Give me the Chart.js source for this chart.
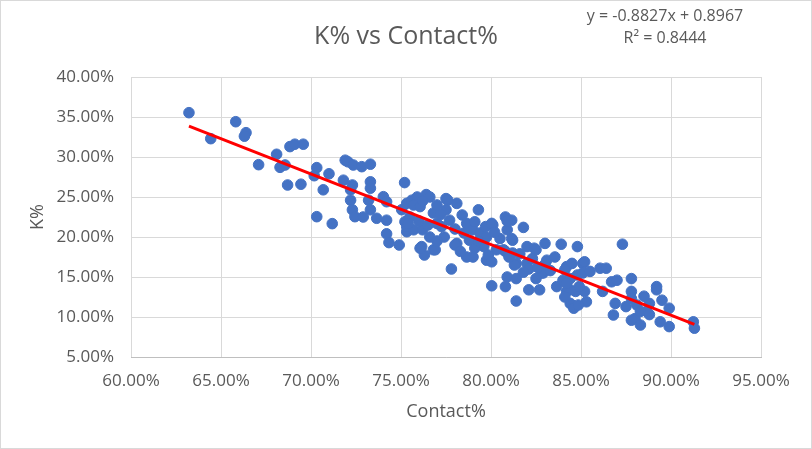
<!DOCTYPE html>
<html>
<head>
<meta charset="utf-8">
<script src="https://cdn.jsdelivr.net/npm/chart.js@4.4.1/dist/chart.umd.min.js"></script>
<style>
  html, body { margin: 0; padding: 0; background: #ffffff; }
  #wrap { width: 812px; height: 449px; position: relative; }
</style>
</head>
<body>
<div id="wrap"><canvas id="c" width="812" height="449"></canvas></div>
<script>
// Contact% (x) and K% (y), in percent
const contact = [
  63.22, 64.43, 65.82, 66.39, 66.30, 67.09, 68.09, 68.28, 68.56, 68.70,
  68.83, 69.10, 69.57, 69.44, 70.32, 70.18, 70.68, 71.00, 70.32, 71.18,
  71.90, 72.05, 72.35, 72.82, 73.30, 71.80, 72.30, 72.20, 73.30, 73.30,
  72.20, 72.30, 72.44, 73.20, 73.30, 72.90, 74.02, 74.20, 73.65, 74.20,
  74.20, 74.33, 74.90, 75.20, 75.04, 75.32, 75.22, 75.32, 75.60, 75.90,
  76.40, 76.60, 77.50, 77.60, 78.10, 75.70, 76.06, 75.50, 75.32, 75.70,
  76.20, 76.80, 77.00, 76.60, 76.15, 76.30, 76.80, 77.40, 77.70, 77.50,
  77.80, 78.40, 78.65, 78.10, 78.50, 78.65, 79.00, 79.30, 79.00, 79.40,
  79.75, 79.60, 79.75, 80.10, 80.30, 80.04, 80.80, 81.15, 80.90, 80.70,
  81.20, 81.20, 81.40, 80.90, 80.80, 81.40, 81.40, 81.80, 82.00, 82.00,
  82.10, 82.50, 82.70, 83.00, 83.10, 82.90, 83.65, 83.55, 83.90, 84.20,
  84.50, 84.80, 84.40, 84.40, 87.30, 85.10, 86.06, 86.40, 84.00, 84.40,
  84.80, 85.10, 85.50, 84.20, 84.70, 85.20, 84.60, 85.30, 84.90, 86.20,
  86.70, 87.00, 87.80, 86.90, 86.80, 87.80, 87.80, 87.50, 88.10, 88.00,
  88.30, 88.80, 88.65, 89.20, 89.20, 89.50, 89.90, 89.40, 89.90, 91.24,
  91.30, 76.06, 76.90, 78.00, 79.10, 79.10, 79.70, 75.40, 77.25, 80.04,
  80.90, 81.15, 79.85, 80.04, 80.80, 81.30, 82.40, 82.10, 82.80, 84.10,
  85.20, 88.50, 87.80, 88.30, 88.80, 84.10, 84.85, 84.20, 76.00, 76.50,
  77.20, 78.00, 78.80, 79.30, 80.50, 80.20, 81.00, 81.60, 82.30, 82.60,
  83.30, 83.00, 81.80, 78.30, 77.00, 76.20, 77.00, 82.50
];
const kRate = [
  35.54, 32.29, 34.41, 33.04, 32.60, 29.04, 30.34, 28.71, 29.00, 26.50,
  31.30, 31.60, 31.60, 26.60, 28.67, 27.66, 25.90, 27.90, 22.54, 21.67,
  29.60, 29.40, 29.00, 28.79, 29.10, 27.10, 26.50, 25.90, 26.90, 26.10,
  24.60, 23.40, 22.54, 24.60, 23.40, 22.50, 25.04, 24.41, 22.34, 22.10,
  20.40, 19.30, 19.00, 26.80, 23.41, 24.21, 21.91, 20.66, 24.60, 25.00,
  25.30, 25.00, 24.80, 24.60, 24.20, 24.00, 23.80, 22.50, 21.29, 20.90,
  20.90, 23.00, 21.70, 20.00, 18.80, 17.75, 18.40, 20.00, 22.10, 23.40,
  16.00, 22.75, 21.70, 19.20, 20.50, 17.50, 17.50, 23.40, 20.90, 20.50,
  20.00, 18.80, 17.10, 21.50, 18.40, 13.90, 22.50, 22.10, 20.90, 18.40,
  19.60, 18.00, 16.70, 15.00, 13.80, 14.80, 12.00, 21.20, 18.80, 16.70,
  13.40, 18.40, 13.40, 19.20, 17.10, 15.50, 13.80, 17.50, 19.10, 16.30,
  16.70, 18.80, 13.40, 11.70, 19.10, 16.70, 16.10, 16.10, 14.60, 14.80,
  15.25, 15.50, 15.70, 13.20, 13.20, 13.20, 11.10, 11.90, 13.80, 13.20,
  14.40, 14.60, 14.80, 11.70, 10.25, 13.20, 12.30, 11.30, 11.50, 9.80,
  9.00, 11.70, 10.70, 13.80, 13.40, 12.10, 11.10, 9.40, 8.80, 9.40,
  8.60, 18.60, 18.40, 19.00, 18.60, 21.90, 21.30, 21.70, 21.30, 21.70,
  22.00, 19.80, 17.75, 16.90, 18.20, 16.50, 18.60, 16.00, 15.50, 15.90,
  16.90, 12.60, 9.60, 10.70, 10.30, 12.50, 11.50, 14.20, 22.00, 21.50,
  22.80, 21.00, 19.60, 19.50, 19.80, 20.60, 17.50, 17.90, 17.30, 16.20,
  15.80, 16.60, 15.60, 18.20, 19.50, 24.50, 24.00, 14.80
];
// Axis tick values (percent)
const xTicks = [60, 65, 70, 75, 80, 85, 90, 95];
const yTicks = [5, 10, 15, 20, 25, 30, 35, 40];
// Trendline coefficients shown on the chart (fractions)
const trendSlope = [-0.8827];
const trendIntercept = [0.8967];
const trendR2 = [0.8444];

const points = contact.map((x, i) => ({ x: x, y: kRate[i] }));
const xMin = Math.min(...contact), xMax = Math.max(...contact);
const trendY = x => (trendSlope[0] * (x / 100) + trendIntercept[0]) * 100;
const trendPts = [{ x: xMin, y: trendY(xMin) }, { x: xMax, y: trendY(xMax) }];

const FONT = "'Open Sans', 'Noto Sans', sans-serif";
const TXT = '#595959';

const decor = {
  id: 'decor',
  beforeDraw(chart) {
    const ctx = chart.ctx;
    ctx.save();
    ctx.fillStyle = '#ffffff';
    ctx.fillRect(0, 0, chart.width, chart.height);
    ctx.restore();
  },
  afterDraw(chart) {
    const ctx = chart.ctx;
    const xs = chart.scales.x, ys = chart.scales.y;
    ctx.save();
    ctx.fillStyle = TXT;
    ctx.textAlign = 'center';
    ctx.textBaseline = 'middle';
    ctx.font = '25px ' + FONT;
    ctx.fillText('K% vs Contact%', 406, 37);
    ctx.font = '16px ' + FONT;
    const sign = trendIntercept[0] >= 0 ? ' + ' : ' - ';
    ctx.fillText('y = ' + trendSlope[0].toFixed(4) + 'x' + sign + Math.abs(trendIntercept[0]).toFixed(4), 665, 16);
    ctx.fillText('R\u00B2 = ' + trendR2[0].toFixed(4), 665, 38);
    ctx.font = '18px ' + FONT;
    ctx.fillText('Contact%', (xs.left + xs.right) / 2, 412);
    ctx.translate(38, (ys.top + ys.bottom) / 2);
    ctx.rotate(-Math.PI / 2);
    ctx.fillText('K%', 0, 0);
    ctx.restore();
    ctx.save();
    ctx.strokeStyle = '#d9d9d9';
    ctx.lineWidth = 1;
    ctx.strokeRect(0.5, 0.5, chart.width - 1, chart.height - 1);
    ctx.restore();
  }
};

new Chart(document.getElementById('c'), {
  type: 'scatter',
  data: {
    datasets: [
      {
        type: 'line',
        data: trendPts,
        borderColor: '#ff0000',
        borderWidth: 3,
        pointRadius: 0,
        fill: false,
        order: 0
      },
      {
        data: points,
        backgroundColor: '#4472c4',
        borderColor: '#4472c4',
        borderWidth: 1,
        pointRadius: 5.3,
        order: 1
      }
    ]
  },
  options: {
    responsive: false,
    animation: false,
    devicePixelRatio: 1,
    layout: { padding: { top: 77, right: 51, left: 0, bottom: 0 } },
    plugins: { legend: { display: false }, tooltip: { enabled: false }, title: { display: false } },
    scales: {
      x: {
        type: 'linear',
        min: xTicks[0], max: xTicks[xTicks.length - 1],
        afterBuildTicks: s => { s.ticks = xTicks.map(v => ({ value: v })); },
        afterFit: s => { s.height = 92; },
        grid: { color: '#d9d9d9', lineWidth: 1, drawTicks: false },
        border: { color: '#bfbfbf', width: 1 },
        ticks: { padding: 14, color: TXT, font: { family: FONT, size: 17 }, callback: v => v.toFixed(2) + '%' }
      },
      y: {
        type: 'linear',
        min: yTicks[0], max: yTicks[yTicks.length - 1],
        afterBuildTicks: s => { s.ticks = yTicks.map(v => ({ value: v })); },
        afterFit: s => { s.width = 131; },
        grid: { color: '#d9d9d9', lineWidth: 1, drawTicks: false },
        border: { display: false },
        ticks: { padding: 17, color: TXT, font: { family: FONT, size: 17 }, callback: v => v.toFixed(2) + '%' }
      }
    }
  },
  plugins: [decor]
});
</script>
</body>
</html>
